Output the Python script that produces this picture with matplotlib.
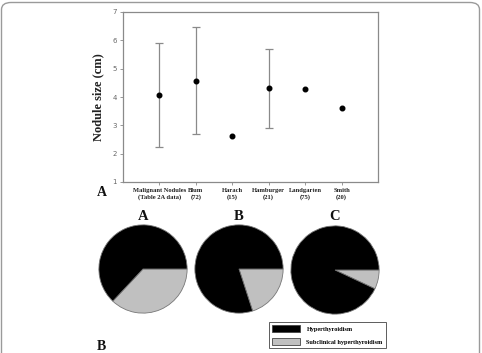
import matplotlib
matplotlib.use("Agg")
import matplotlib.pyplot as plt
from matplotlib.patches import FancyBboxPatch, Patch

studies = ["Malignant Nodules\n(Table 2A data)", "Blum\n(72)", "Harach\n(15)",
           "Hamburger\n(21)", "Landgarten\n(75)", "Smith\n(20)"]
means = [4.07, 4.58, 2.62, 4.32, 4.30, 3.62]
lower = [2.23, 2.70, None, 2.92, None, None]
upper = [5.90, 6.47, None, 5.70, None, None]

pie_titles = ["A", "B", "C"]
hyper = [63, 80, 93]
subclinical = [37, 20, 7]
legend_labels = ["Hyperthyroidism", "Subclinical hyperthyroidism"]

W, H = 482, 353
fig = plt.figure(figsize=(W / 100, H / 100), dpi=100)
serif = "Liberation Serif"

def ax_px(x0, y0, x1, y1):
    return fig.add_axes([x0 / W, 1 - y1 / H, (x1 - x0) / W, (y1 - y0) / H])

# outer rounded frame
frame = FancyBboxPatch((1.5 / W, -0.05), (W - 4) / W, 1 - 2.5 / H + 0.05,
                       boxstyle="round,pad=0,rounding_size=0.02",
                       transform=fig.transFigure, fill=False,
                       edgecolor="#9a9a9a", linewidth=1.0, figure=fig)
fig.patches.append(frame)

# top scatter with error bars
ax = ax_px(123, 12, 378, 182)
xs = list(range(1, len(studies) + 1))
for x, m, lo, hi in zip(xs, means, lower, upper):
    if lo is not None:
        ax.errorbar([x], [m], yerr=[[m - lo], [hi - m]], fmt="none",
                    ecolor="#8a8a8a", elinewidth=0.9, capsize=3, capthick=0.9)
ax.plot(xs, means, "o", color="black", markersize=3.3, zorder=5)
ax.set_xlim(0, 7)
ax.set_ylim(1, 7)
ax.set_yticks(range(1, 8))
ax.set_xticks(xs)
ax.set_xticklabels(studies, fontfamily=serif, fontweight="bold", fontsize=4.7,
                   color="#222222", linespacing=1.45)
ax.tick_params(axis="y", labelsize=5, colors="#888888", labelcolor="#666666",
               length=2.5, width=0.6, direction="out", pad=2)
ax.tick_params(axis="x", length=2, width=0.6, colors="#888888",
               labelcolor="#222222", pad=2)
for s in ax.spines.values():
    s.set_color("#8a8a8a")
    s.set_linewidth(0.9)
ax.set_ylabel("Nodule size (cm)", fontfamily=serif, fontweight="bold",
              fontsize=9, color="#222222", labelpad=6)

fig.text(97 / W, 1 - 192 / H, "A", fontfamily=serif, fontweight="bold",
         fontsize=10, ha="left", va="center", color="#111111")
fig.text(97 / W, 1 - 346 / H, "B", fontfamily=serif, fontweight="bold",
         fontsize=10, ha="left", va="center", color="#111111")

# pies
centers = [(143, 269), (239, 269), (335, 270)]
r = 44
for (cx, cy), t, h, s in zip(centers, pie_titles, hyper, subclinical):
    pax = ax_px(cx - r - 1, cy - r - 1, cx + r + 1, cy + r + 1)
    pax.pie([s, h], colors=["#c0c0c0", "black"], startangle=0,
            counterclock=False, radius=1.0,
            wedgeprops=dict(edgecolor="#777777", linewidth=0.6))
    pax.set_xlim(-1.02, 1.02)
    pax.set_ylim(-1.02, 1.02)
    pax.set_aspect("equal")
    pax.axis("off")
    fig.text(cx / W, 1 - 217 / H, t, fontfamily=serif, fontweight="bold",
             fontsize=10.5, ha="center", va="center", color="#111111")

# legend
handles = [Patch(facecolor="black", edgecolor="#444444", linewidth=0.6),
           Patch(facecolor="#c0c0c0", edgecolor="#444444", linewidth=0.6)]
leg = fig.legend(handles, legend_labels, loc="upper left",
                 bbox_to_anchor=(269 / W, 1 - 322 / H), fancybox=False,
                 prop=dict(family=serif, weight="bold", size=4.5),
                 handlelength=4.5, handleheight=1.4, borderpad=0.5,
                 labelspacing=0.9, handletextpad=1.0, borderaxespad=0)
leg.get_frame().set_edgecolor("#333333")
leg.get_frame().set_linewidth(0.7)

fig.savefig("out.png", dpi=100)
